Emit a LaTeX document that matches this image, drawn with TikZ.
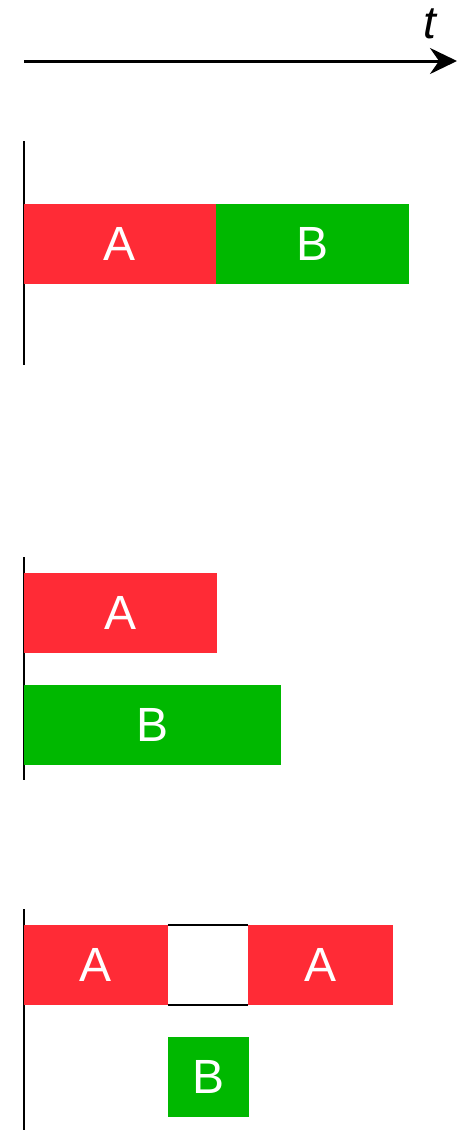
\documentclass[tikz,border=0pt]{standalone}
\usepackage{fontspec}
\setmainfont{Liberation Sans}
\usetikzlibrary{arrows.meta}
\definecolor{jobred}{HTML}{FF2B36}
\definecolor{jobgreen}{HTML}{00B800}
\tikzset{every node/.style={font=\fontsize{48}{56}\selectfont,text=white,inner sep=0pt},
job/.style={rectangle,minimum height=80pt},
ja/.style={job,fill=jobred},
jb/.style={job,fill=jobgreen},
axis/.style={line width=2pt,draw=black},
tarr/.style={-{Stealth[length=27pt,width=26pt,inset=9pt]},line width=3pt}}

\begin{document}
\begin{tikzpicture}[x=1pt,y=-1pt]
\useasboundingbox (0,0) rectangle (459,1130);
% time axis
\coordinate (t0) at (24,61);
\coordinate (t1) at (457,61);
\draw[tarr] (t0)--(t1);
\node[text=black,font=\fontsize{46}{52}\selectfont\itshape] (tl) at (430,24) {t};
% sequential
\draw[axis] (24,141)--(24,365);
\node[ja,minimum width=192pt] (a1) at (120,244) {A};
\node[jb,minimum width=193pt] (b1) at (312.5,244) {B};
% parallel
\draw[axis] (24,557)--(24,780);
\node[ja,minimum width=193pt] (a2) at (120.5,613) {A};
\node[jb,minimum width=257pt] (b2) at (152.5,725) {B};
% preempted
\draw[axis] (24,909)--(24,1130);
\node[ja,minimum width=144pt] (a3) at (96,965) {A};
\node[job,minimum width=80pt] (gap) at (208,965) {};
\node[ja,minimum width=145pt] (a4) at (320.5,965) {A};
\draw[axis] (gap.north west)--(gap.north east);
\draw[axis] (gap.south west)--(gap.south east);
\node[jb,minimum width=81pt] (b3) at (208.5,1077) {B};
\end{tikzpicture}
\end{document}
